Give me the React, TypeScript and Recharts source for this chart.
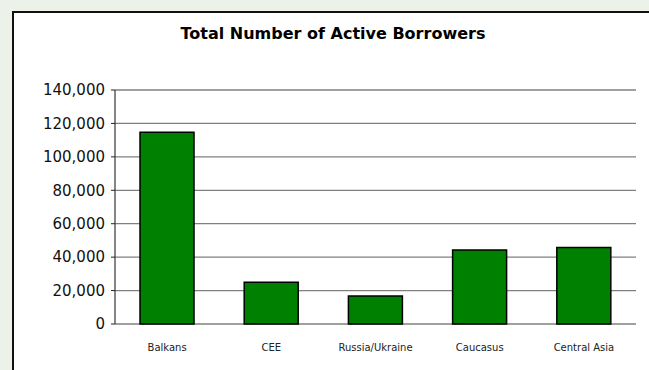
import React from 'react';
import { BarChart, Bar, XAxis, YAxis, CartesianGrid } from 'recharts';

const categories = ['Balkans', 'CEE', 'Russia/Ukraine', 'Caucasus', 'Central Asia'];
const borrowers = [114700, 25000, 16800, 44300, 45700];
const yTicks = [0, 20000, 40000, 60000, 80000, 100000, 120000, 140000];
const boundaryTicks = [0, 1, 2, 3, 4, 5];

const data = categories.map((c, i) => ({ region: c, value: borrowers[i] }));

const fmt = (v: number) => v.toLocaleString('en-US');

export default function App() {
  return (
    <div style={{ position: 'absolute', left: 0, top: 0, width: 649, height: 370, background: '#ECF2E8', overflow: 'hidden' }}>
      <div style={{ position: 'absolute', left: 12, top: 11, width: 660, height: 380, background: '#fff', borderLeft: '2px solid #111', borderTop: '2px solid #111' }} />
      <div style={{ position: 'absolute', left: 0, top: 24, width: 666, textAlign: 'center', fontFamily: 'DejaVu Sans, Verdana, sans-serif', fontWeight: 'bold', fontSize: 16, color: '#000' }}>
        Total Number of Active Borrowers
      </div>
      <div style={{ position: 'absolute', left: 0, top: 0 }}>
        <BarChart width={649} height={370} data={data} margin={{ top: 90, right: 13, left: 55, bottom: 16 }} barCategoryGap="24%">
          <CartesianGrid vertical={false} stroke="#808080" strokeWidth={1.3} />
          <XAxis xAxisId="bound" type="number" domain={[0, 5]} ticks={boundaryTicks} height={0} tickFormatter={() => ''} axisLine={{ stroke: '#444', strokeWidth: 1.3 }} tickLine={{ stroke: '#222' }} tickSize={4} allowDataOverflow />
          <XAxis xAxisId="cat" dataKey="region" height={30} axisLine={false} tickLine={false} tickMargin={14} tick={{ fontSize: 10, fill: '#222', fontFamily: 'DejaVu Sans, Verdana, sans-serif' }} interval={0} />
          <YAxis width={60} domain={[0, 140000]} ticks={yTicks} tickFormatter={fmt} axisLine={{ stroke: '#444', strokeWidth: 1.3 }} tickLine={{ stroke: '#222' }} tickSize={4} tickMargin={6} tick={{ fontSize: 15, fill: '#111', fontFamily: 'DejaVu Sans, Verdana, sans-serif' }} />
          <Bar xAxisId="cat" dataKey="value" fill="#008000" stroke="#000" strokeWidth={1.5} isAnimationActive={false} />
        </BarChart>
      </div>
    </div>
  );
}
